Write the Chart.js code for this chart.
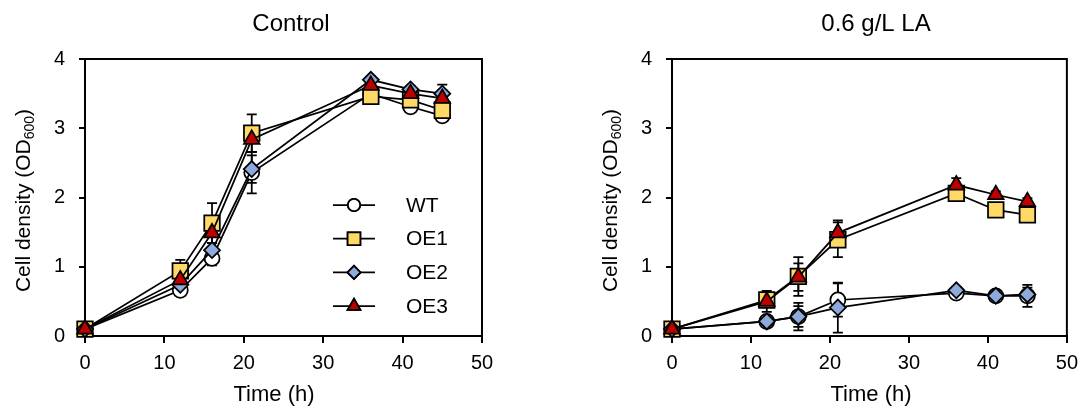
<!DOCTYPE html>
<html>
<head>
<meta charset="utf-8">
<script src="https://cdn.jsdelivr.net/npm/chart.js@4"></script>
<style>
  html, body { margin:0; padding:0; background:#fff; }
  .wrap { position:relative; width:1086px; height:410px; }
  .panel { position:absolute; top:0; width:543px; height:410px; }
  #leftPanel { left:0; }
  #rightPanel { left:543px; }
</style>
</head>
<body>
<div class="wrap">
  <div class="panel" id="leftPanel"><canvas id="controlChart" width="543" height="410"></canvas></div>
  <div class="panel" id="rightPanel"><canvas id="laChart" width="543" height="410"></canvas></div>
</div>
<script>
/* growth curves, OD600 vs time */

// sampling times (h)
const times = [0, 12, 16, 21, 36, 41, 45];
const seriesNames = ['WT', 'OE1', 'OE2', 'OE3'];
const xTicks = [0, 10, 20, 30, 40, 50];
const yTicks = [0, 1, 2, 3, 4];

// Control
const ctrlWT  = [0.10, 0.66, 1.12, 2.36, 3.50, 3.31, 3.18];
const ctrlOE1 = [0.10, 0.94, 1.63, 2.93, 3.46, 3.41, 3.26];
const ctrlOE2 = [0.10, 0.74, 1.24, 2.41, 3.70, 3.56, 3.50];
const ctrlOE3 = [0.10, 0.81, 1.49, 2.84, 3.62, 3.50, 3.43];
const ctrlErrWT  = [0.02, 0.05, 0.10, 0.30, 0.05, 0.05, 0.05];
const ctrlErrOE1 = [0.02, 0.16, 0.29, 0.27, 0.05, 0.05, 0.10];
const ctrlErrOE2 = [0.02, 0.05, 0.10, 0.20, 0.05, 0.05, 0.05];
const ctrlErrOE3 = [0.02, 0.10, 0.15, 0.18, 0.05, 0.08, 0.20];

// 0.6 g/L LA
const laWT  = [0.10, 0.21, 0.28, 0.52, 0.62, 0.58, 0.58];
const laOE1 = [0.10, 0.52, 0.86, 1.39, 2.06, 1.82, 1.75];
const laOE2 = [0.10, 0.21, 0.28, 0.41, 0.66, 0.58, 0.60];
const laOE3 = [0.10, 0.50, 0.85, 1.49, 2.18, 2.04, 1.94];
const laErrWT  = [0.02, 0.05, 0.20, 0.24, 0.05, 0.05, 0.16];
const laErrOE1 = [0.02, 0.10, 0.28, 0.25, 0.10, 0.05, 0.05];
const laErrOE2 = [0.02, 0.05, 0.15, 0.36, 0.05, 0.05, 0.10];
const laErrOE3 = [0.02, 0.15, 0.20, 0.18, 0.10, 0.05, 0.05];

const FONT = '"Liberation Sans", Arial, sans-serif';

// marker look for each strain
const markerStyle = {
  WT:  { pointStyle:'circle',   radius:7.5, fill:'#ffffff', order:4 },
  OE1: { pointStyle:'rect',     radius:11,  fill:'#FFD966', order:3 },
  OE2: { pointStyle:'rectRot',  radius:8,   fill:'#8EA9DB', order:2 },
  OE3: { pointStyle:'triangle', radius:9,   fill:'#C00000', order:1 }
};

function makeDatasets(values, errs){
  return seriesNames.map((name, k) => {
    const st = markerStyle[name];
    return {
      label: name,
      data: times.map((t, i) => ({ x: t, y: values[k][i] })),
      err: errs[k],
      borderColor: '#000',
      borderWidth: 1.75,
      pointStyle: st.pointStyle,
      pointRadius: st.radius,
      pointHoverRadius: st.radius,
      pointBackgroundColor: st.fill,
      pointBorderColor: '#000',
      pointBorderWidth: 1.75,
      order: st.order,
      clip: false,
      tension: 0
    };
  });
}

/* frame, error bars, titles and legend */
const decor = {
  id: 'decor',
  beforeDatasetsDraw(chart){
    const ctx = chart.ctx, a = chart.chartArea;
    const xs = chart.scales.x, ys = chart.scales.y;
    ctx.save();
    ctx.strokeStyle = '#000';
    ctx.lineWidth = 2;
    ctx.strokeRect(a.left, a.top, a.right - a.left, a.bottom - a.top);
    // error bars
    ctx.lineWidth = 1.75;
    chart.data.datasets.forEach(ds => {
      ds.data.forEach((p, i) => {
        const e = ds.err[i];
        const px = xs.getPixelForValue(p.x);
        const top = ys.getPixelForValue(p.y + e);
        const bot = ys.getPixelForValue(p.y - e);
        ctx.beginPath();
        ctx.moveTo(px, top); ctx.lineTo(px, bot);
        ctx.moveTo(px - 5, top); ctx.lineTo(px + 5, top);
        ctx.moveTo(px - 5, bot); ctx.lineTo(px + 5, bot);
        ctx.stroke();
      });
    });
    ctx.restore();
  },
  afterDraw(chart, args, opts){
    const ctx = chart.ctx, a = chart.chartArea;
    ctx.save();
    ctx.fillStyle = '#000';
    // panel title
    ctx.font = '24px ' + FONT;
    ctx.textAlign = 'center';
    ctx.textBaseline = 'middle';
    ctx.fillText(opts.title, opts.titleX, 24);
    // x axis title
    ctx.font = '22px ' + FONT;
    ctx.fillText('Time (h)', opts.xTitleX, 395);

    // y axis title with subscript
    const main = 'Cell density (OD', sub = '600', tail = ')';
    ctx.font = '21px ' + FONT;
    const w1 = ctx.measureText(main).width, w3 = ctx.measureText(tail).width;
    ctx.font = '14px ' + FONT;
    const w2 = ctx.measureText(sub).width;
    const total = w1 + w2 + w3;
    ctx.translate(a.left - 62, (a.top + a.bottom) / 2 + 3);
    ctx.rotate(-Math.PI / 2);
    ctx.textAlign = 'left';
    ctx.textBaseline = 'alphabetic';
    let x0 = -total / 2;
    ctx.font = '21px ' + FONT;
    ctx.fillText(main, x0, 7);
    ctx.font = '14px ' + FONT;
    ctx.fillText(sub, x0 + w1, 11);
    ctx.font = '21px ' + FONT;
    ctx.fillText(tail, x0 + w1 + w2, 7);
    ctx.restore();

    if (!opts.legend) return;
    // legend inside plot
    const lx = opts.legend.x, ly = opts.legend.y, gap = opts.legend.gap;
    chart.data.datasets.forEach((ds, k) => {
      const y = ly + k * gap;
      ctx.save();
      ctx.strokeStyle = '#000';
      ctx.lineWidth = 1.75;
      ctx.beginPath();
      ctx.moveTo(lx - 21, y); ctx.lineTo(lx + 21, y);
      ctx.stroke();
      ctx.fillStyle = ds.pointBackgroundColor;
      Chart.helpers.drawPoint(ctx, {
        pointStyle: ds.pointStyle, radius: ds.pointRadius * 0.82,
        borderWidth: 1.75, rotation: 0
      }, lx, y);
      ctx.fill();
      ctx.stroke();
      ctx.fillStyle = '#000';
      ctx.font = '21px ' + FONT;
      ctx.textAlign = 'left';
      ctx.textBaseline = 'middle';
      ctx.fillText(ds.label, lx + 52, y + 1);
      ctx.restore();
    });
  }
};

function makeChart(id, datasets, opts){
  return new Chart(document.getElementById(id), {
    type: 'line',
    data: { datasets },
    options: {
      responsive: false,
      animation: false,
      layout: { padding: { top: 59, right: opts.padRight, bottom: 0, left: 0 } },
      plugins: {
        legend: { display: false },
        tooltip: { enabled: false },
        decor: opts.decor
      },
      scales: {
        x: {
          type: 'linear', min: 0, max: 50,
          afterBuildTicks: s => { s.ticks = xTicks.map(v => ({ value: v })); },
          afterFit: s => { s.height = 74; },
          grid: { drawOnChartArea: false, drawTicks: true, tickLength: 7, color: '#000', lineWidth: 2 },
          border: { color: '#000', width: 2 },
          ticks: { color: '#000', font: { family: FONT, size: 20 }, padding: 8, maxRotation: 0 },
          title: { display: false }
        },
        y: {
          min: 0, max: 4,
          afterBuildTicks: s => { s.ticks = yTicks.map(v => ({ value: v })); },
          afterFit: s => { s.width = opts.yWidth; },
          grid: { drawOnChartArea: false, drawTicks: true, tickLength: 6, color: '#000', lineWidth: 2 },
          border: { color: '#000', width: 2 },
          ticks: { color: '#000', font: { family: FONT, size: 20 }, padding: 14 }
        }
      }
    },
    plugins: [decor]
  });
}

document.addEventListener('DOMContentLoaded', function(){
  makeChart('controlChart',
    makeDatasets([ctrlWT, ctrlOE1, ctrlOE2, ctrlOE3], [ctrlErrWT, ctrlErrOE1, ctrlErrOE2, ctrlErrOE3]),
    { padRight: 61, yWidth: 85,
      decor: { title: 'Control', titleX: 291, xTitleX: 274, legend: { x: 354, y: 205, gap: 33.7 } } });

  makeChart('laChart',
    makeDatasets([laWT, laOE1, laOE2, laOE3], [laErrWT, laErrOE1, laErrOE2, laErrOE3]),
    { padRight: 18, yWidth: 129,
      decor: { title: '0.6 g/L LA', titleX: 333, xTitleX: 328, legend: null } });
});
</script>
</body>
</html>
